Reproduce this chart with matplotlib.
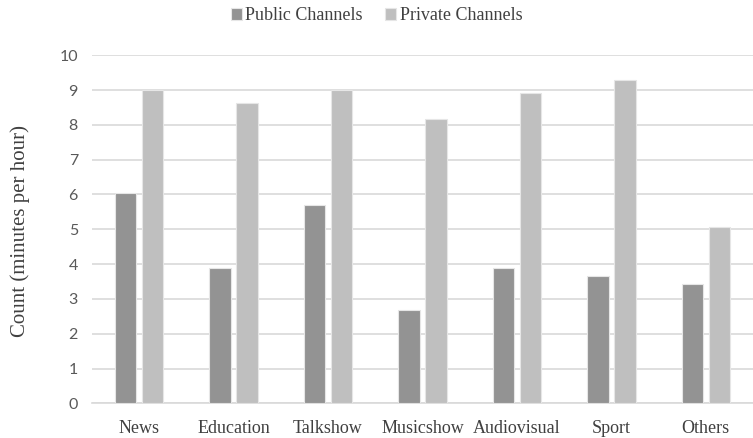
import matplotlib
matplotlib.use("Agg")
import matplotlib.pyplot as plt
import numpy as np

categories = ["News", "Education", "Talkshow", "Musicshow", "Audiovisual", "Sport", "Others"]
public_vals = [6.05, 3.88, 5.7, 2.67, 3.9, 3.65, 3.42]
private_vals = [9.0, 8.63, 9.0, 8.17, 8.9, 9.3, 5.07]
series_names = ["Public Channels", "Private Channels"]

plt.rcParams["font.family"] = ["Liberation Serif", "DejaVu Serif"]

fig = plt.figure(figsize=(7.53, 4.38), dpi=100)
ax = fig.add_axes([0.122, 0.079, 0.878, 0.795])

x = np.arange(len(categories))
w = 0.228
off = 0.143
ax.bar(x - off, public_vals, w, color="#939393", edgecolor="#e6e6e6", linewidth=0.8,
       label=series_names[0], zorder=3)
ax.bar(x + off, private_vals, w, color="#bfbfbf", edgecolor="#e6e6e6", linewidth=0.8,
       label=series_names[1], zorder=3)

ax.set_xlim(-0.5, len(categories) - 0.5)
ax.set_ylim(0, 10)
ax.set_yticks(range(0, 11))
ax.set_xticks(x)
ax.set_xticklabels(categories)
ax.yaxis.grid(True, color="#d9d9d9", linewidth=1.2, zorder=0)
ax.tick_params(axis="x", length=0, labelsize=13, colors="#404040", pad=12)
ax.tick_params(axis="y", length=0, labelsize=11.5, colors="#595959", pad=10)
for t in ax.get_yticklabels():
    t.set_fontfamily(["Lato", "DejaVu Sans"])
for s in ["top", "right", "left"]:
    ax.spines[s].set_visible(False)
ax.spines["bottom"].set_color("#d9d9d9")
ax.spines["bottom"].set_linewidth(1.2)

ax.set_ylabel("Count (minutes per hour)", fontsize=15, color="#404040")
ax.yaxis.set_label_coords(-0.093, 0.495)

fig.legend(loc="upper center", bbox_to_anchor=(0.5, 1.02), ncol=2, frameon=False,
           fontsize=13, handlelength=0.6, handleheight=0.6, handletextpad=0.2,
           columnspacing=1.25, labelcolor="#404040")

fig.savefig("out.png", dpi=100)
